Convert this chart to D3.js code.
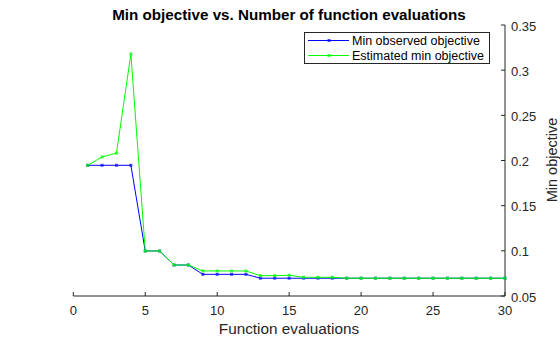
<!DOCTYPE html>
<html><head><meta charset="utf-8">
<script src="https://cdn.jsdelivr.net/npm/d3@7"></script>
<style>body{margin:0;background:#fff;font-family:"Liberation Sans",Arial,sans-serif}</style>
</head><body><div id="c"></div>
<script>
const evals = d3.range(1, 31);
const observed = [0.1947,0.1947,0.1947,0.1947,0.0998,0.0998,0.0843,0.0843,0.074,0.074,0.074,0.074,0.0697,0.0697,0.0697,0.0697,0.0697,0.0697,0.0697,0.0697,0.0697,0.0697,0.0697,0.0697,0.0697,0.0697,0.0697,0.0697,0.0697,0.0697];
const estimated = [0.1947,0.2039,0.2082,0.3180,0.0998,0.0998,0.0843,0.0843,0.0777,0.0777,0.0777,0.0777,0.0725,0.0725,0.0730,0.0707,0.0707,0.0707,0.0697,0.0697,0.0697,0.0697,0.0697,0.0697,0.0697,0.0697,0.0697,0.0697,0.0697,0.0697];
const xTicks = [0,5,10,15,20,25,30];
const yTicks = [0.05,0.1,0.15,0.2,0.25,0.3,0.35];
const seriesNames = ["Min observed objective","Estimated min objective"];
const colors = ["#0000ff","#00ff00"];

const W=560,H=337;
const svg=d3.select("#c").append("svg").attr("width",W).attr("height",H);
const x=d3.scaleLinear().domain([0,30]).range([73.3,505]);
const y=d3.scaleLinear().domain([0.05,0.35]).range([296,25]);

const font='"Liberation Sans",Arial,sans-serif';
// bottom axis
const gx=svg.append("g").attr("transform","translate(0,296)");
gx.append("line").attr("x1",x(0)).attr("x2",x(30)).attr("stroke","#262626");
xTicks.forEach(t=>{
  gx.append("line").attr("x1",x(t)).attr("x2",x(t)).attr("y1",0).attr("y2",-4).attr("stroke","#262626");
  gx.append("text").attr("x",x(t)).attr("y",19).attr("text-anchor","middle").attr("font-size",13).attr("font-family",font).attr("fill","#262626").text(d3.format("")(t));
});
// right axis
const gy=svg.append("g").attr("transform","translate(505,0)");
gy.append("line").attr("y1",y(0.05)).attr("y2",y(0.35)).attr("stroke","#262626");
yTicks.forEach(t=>{
  gy.append("line").attr("y1",y(t)).attr("y2",y(t)).attr("x1",0).attr("x2",-4).attr("stroke","#262626");
  gy.append("text").attr("x",6).attr("y",y(t)+5.5).attr("font-size",13).attr("font-family",font).attr("fill","#262626").text(String(+t.toFixed(2)));
});
svg.append("text").attr("x",289).attr("y",20).attr("text-anchor","middle").attr("font-size",15.2).attr("font-weight","bold").attr("font-family",font).attr("fill","#000").text("Min objective vs. Number of function evaluations");
svg.append("text").attr("x",289).attr("y",334).attr("text-anchor","middle").attr("font-size",15.3).attr("font-family",font).attr("fill","#262626").text("Function evaluations");
svg.append("text").attr("transform","translate(557,160) rotate(-90)").attr("text-anchor","middle").attr("font-size",14.5).attr("font-family",font).attr("fill","#262626").text("Min objective");

const line=d3.line().x((d,i)=>x(evals[i])).y(d=>y(d));
[observed,estimated].forEach((s,k)=>{
  svg.append("path").datum(s).attr("d",line).attr("fill","none").attr("stroke",colors[k]).attr("stroke-width",1);
  svg.selectAll(null).data(s).enter().append("rect")
    .attr("x",(d,i)=>x(evals[i])-1.5).attr("y",d=>y(d)-1.5).attr("width",3).attr("height",3)
    .attr("fill",colors[k]).attr("opacity",0.7);
});

// legend
const lg=svg.append("g");
lg.append("rect").attr("x",304.5).attr("y",32.5).attr("width",185).attr("height",31).attr("fill","#fff").attr("stroke","#262626").attr("stroke-width",1);
seriesNames.forEach((n,k)=>{
  const yy=40.5+k*15;
  lg.append("line").attr("x1",308).attr("x2",349).attr("y1",yy).attr("y2",yy).attr("stroke",colors[k]);
  lg.append("rect").attr("x",327.5).attr("y",yy-1.5).attr("width",3).attr("height",3).attr("fill",colors[k]).attr("opacity",0.7);
  lg.append("text").attr("x",352).attr("y",yy+4.5).attr("font-size",12.5).attr("font-family",font).attr("fill","#000").text(n);
});
</script></body></html>
